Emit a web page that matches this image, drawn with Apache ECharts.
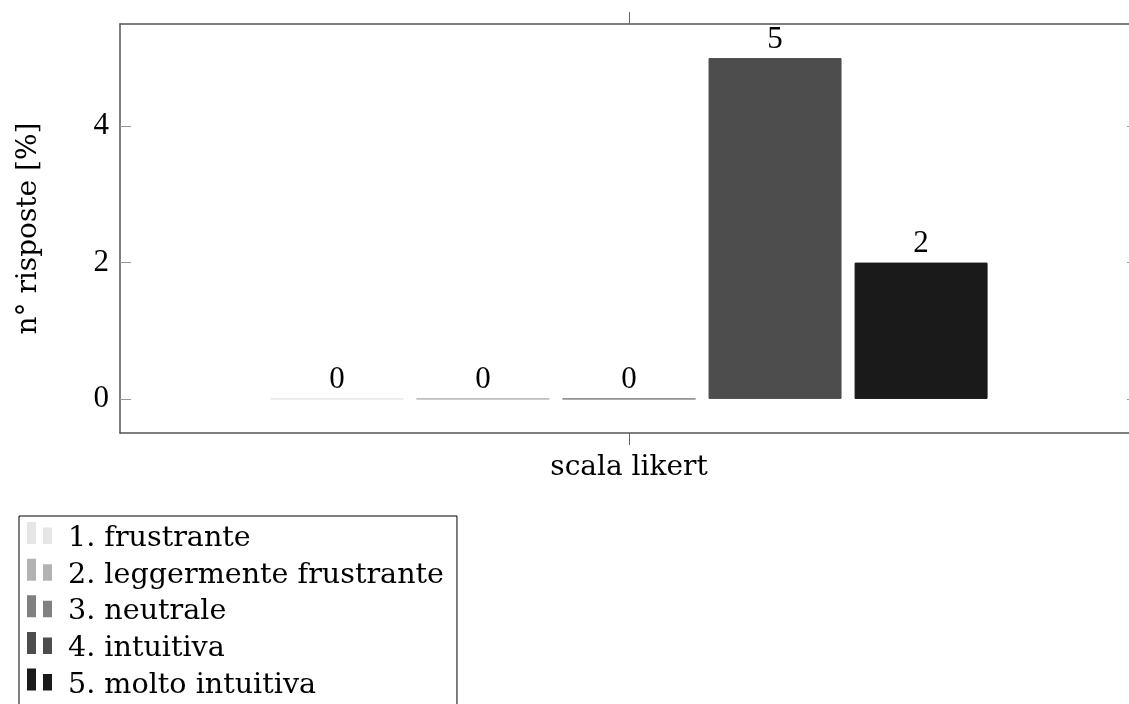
<!DOCTYPE html>
<html>
<head>
<meta charset="utf-8">
<script src="https://cdn.jsdelivr.net/npm/echarts@6/dist/echarts.min.js"></script>
<style>
html,body{margin:0;padding:0;background:#fff;overflow:hidden;width:1129px;height:704px;}
#chart{width:1160px;height:780px;}
</style>
</head>
<body>
<div id="chart"></div>
<script>
const categories = [''];
const seriesNames = ['1. frustrante', '2. leggermente frustrante', '3. neutrale', '4. intuitiva', '5. molto intuitiva'];
const seriesValues = [[0], [0], [0], [5], [2]];
const seriesColors = ['#e6e6e6', '#b3b3b3', '#808080', '#4d4d4d', '#1a1a1a'];
const yTicks = [0, 2, 4];
const yMin = -0.5, yMax = 5.5;

const numFont = 'Liberation Serif';
const txtFont = 'DejaVu Serif';

const chart = echarts.init(document.getElementById('chart'), null, {renderer: 'canvas'});

const series = seriesNames.map((name, i) => ({
  name: name,
  type: 'bar',
  data: seriesValues[i],
  barWidth: 133,
  barGap: '9.8%',
  itemStyle: {color: seriesColors[i], borderColor: seriesColors[i], borderWidth: 1},
  label: {
    show: true, position: 'top', distance: 3,
    fontFamily: numFont, fontSize: 31, color: '#000'
  },
  emphasis: {disabled: true}
}));

const axisLineStyle = {color: '#555', width: 1.5};

chart.setOption({
  animation: false,
  grid: {left: 120, top: 24, width: 1018, height: 409, containLabel: false},
  legend: {
    orient: 'vertical', left: 19, top: 516,
    padding: [6, 13, 60, 8],
    borderColor: '#000', borderWidth: 1,
    itemWidth: 25, itemHeight: 33, itemGap: 3.65,
    icon: 'path://M0,0h9v22h-9z M16,5.5h9v16.5h-9z M0,33h0.01v0.01h-0.01z',
    itemStyle: {borderWidth: 0},
    textStyle: {fontFamily: txtFont, fontSize: 28.6, color: '#000', lineHeight: 27, padding: [0, 0, 0, 11]},
    selectedMode: false,
    data: seriesNames
  },
  xAxis: [{
    type: 'category', data: categories, position: 'bottom',
    name: 'scala likert', nameLocation: 'middle', nameGap: 21,
    nameTextStyle: {fontFamily: txtFont, fontSize: 28, color: '#000'},
    axisLine: {show: true, onZero: false, lineStyle: axisLineStyle},
    axisTick: {show: true, alignWithLabel: true, length: 12, lineStyle: {color: '#666'}},
    axisLabel: {show: false}
  }, {
    type: 'category', data: categories, position: 'top',
    axisLine: {show: true, onZero: false, lineStyle: axisLineStyle},
    axisTick: {show: true, alignWithLabel: true, length: 12, lineStyle: {color: '#666'}},
    axisLabel: {show: false}
  }],
  yAxis: [{
    type: 'value', min: yMin, max: yMax, position: 'left',
    name: 'n° risposte [%]', nameLocation: 'middle', nameGap: 77, nameRotate: 90,
    nameTextStyle: {fontFamily: txtFont, fontSize: 28, color: '#000'},
    axisLine: {show: true, onZero: false, lineStyle: axisLineStyle},
    axisTick: {show: true, inside: true, length: 11, customValues: yTicks, lineStyle: {color: '#999'}},
    axisLabel: {show: true, customValues: yTicks, margin: 11, fontFamily: numFont, fontSize: 31, color: '#000'},
    splitLine: {show: false}
  }, {
    type: 'value', min: yMin, max: yMax, position: 'right',
    axisLine: {show: true, onZero: false, lineStyle: axisLineStyle},
    axisTick: {show: true, inside: true, length: 11, customValues: yTicks, lineStyle: {color: '#999'}},
    axisLabel: {show: false},
    splitLine: {show: false}
  }],
  series: series
});
</script>
</body>
</html>
